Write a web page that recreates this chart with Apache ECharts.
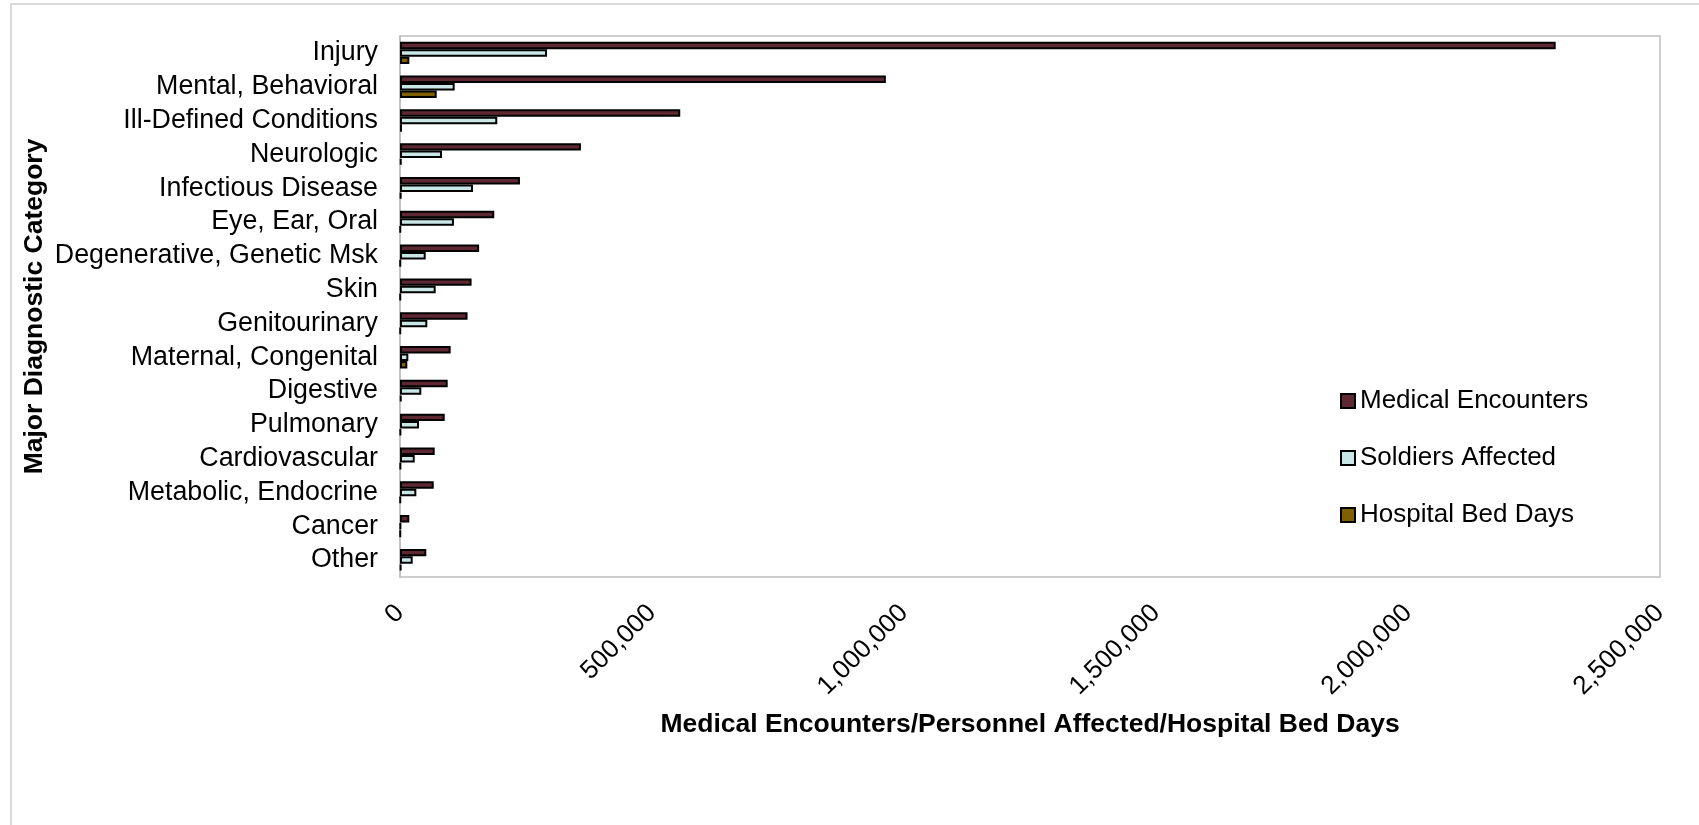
<!DOCTYPE html>
<html>
<head>
<meta charset="utf-8">
<title>Major Diagnostic Category</title>
<script src="https://cdn.jsdelivr.net/npm/echarts@6/dist/echarts.min.js"></script>
<style>
  html, body { margin: 0; padding: 0; background: #fff; }
  #chart { width: 1699px; height: 825px; }
</style>
</head>
<body>
<div id="chart"></div>
<script>
// Diagnostic categories, top to bottom
const categories = [
  'Injury', 'Mental, Behavioral', 'Ill-Defined Conditions', 'Neurologic',
  'Infectious Disease', 'Eye, Ear, Oral', 'Degenerative, Genetic Msk', 'Skin',
  'Genitourinary', 'Maternal, Congenital', 'Digestive', 'Pulmonary',
  'Cardiovascular', 'Metabolic, Endocrine', 'Cancer', 'Other'
];

const medicalEncounters = [
  2293000, 964000, 556000, 359000, 238000, 187000, 157000, 142000,
  134000, 100500, 94600, 88700, 68800, 66900, 18500, 52200
];

const soldiersAffected = [
  291700, 108500, 193000, 83300, 144800, 107000, 51000, 70800,
  54200, 16500, 42300, 37700, 29200, 32400, 1500, 25200
];

const hospitalBedDays = [
  18500, 72800, 4000, 3000, 2500, 1000, 1000, 1000,
  1000, 14500, 3000, 1500, 1500, 1000, 1000, 2500
];

const xTickStep = 500000;
const xMax = 2500000;

const FONT = '"Liberation Sans", Arial, Helvetica, sans-serif';

function withCommas(v) {
  return String(Math.round(v)).replace(/\B(?=(\d{3})+(?!\d))/g, ',');
}

function barSeries(name, data, fill) {
  return {
    name: name,
    type: 'bar',
    data: data,
    barGap: '0%',
    barCategoryGap: '34%',
    itemStyle: { color: fill, borderColor: '#000', borderWidth: 2 }
  };
}

const chart = echarts.init(document.getElementById('chart'));
chart.setOption({
  animation: false,
  backgroundColor: '#fff',
  textStyle: { fontFamily: FONT },
  graphic: [{
    type: 'rect',
    silent: true,
    z: -10,
    shape: { x: 11, y: 4, width: 1760, height: 900 },
    style: { fill: 'none', stroke: '#d9d9d9', lineWidth: 2 }
  }],
  grid: {
    left: 400, top: 36, width: 1260, height: 541,
    show: true, borderColor: '#bfbfbf', borderWidth: 1.5, backgroundColor: '#fff'
  },
  legend: {
    orient: 'vertical',
    left: 1335, top: 383,
    itemWidth: 14, itemHeight: 14, itemGap: 31,
    icon: 'rect',
    textStyle: { fontFamily: FONT, fontSize: 26, lineHeight: 26, color: '#000' }
  },
  xAxis: {
    type: 'value',
    min: 0, max: xMax, interval: xTickStep,
    splitLine: { show: false },
    axisLine: { show: false },
    axisTick: { show: false },
    axisLabel: {
      rotate: 45, margin: 32, fontSize: 26, color: '#000', fontFamily: FONT,
      formatter: withCommas
    },
    name: 'Medical Encounters/Personnel Affected/Hospital Bed Days',
    nameLocation: 'middle',
    nameGap: 134,
    nameMoveOverlap: false,
    nameTextStyle: { fontSize: 26.5, fontWeight: 'bold', color: '#000', fontFamily: FONT }
  },
  yAxis: {
    type: 'category',
    inverse: true,
    data: categories,
    axisLine: { show: true, lineStyle: { color: '#bfbfbf', width: 1.5 } },
    axisTick: { show: false },
    axisLabel: { interval: 0, fontSize: 26.8, color: '#000', margin: 22, fontFamily: FONT },
    name: 'Major Diagnostic Category',
    nameLocation: 'middle',
    nameGap: 352,
    nameMoveOverlap: false,
    nameTextStyle: { fontSize: 26.5, fontWeight: 'bold', color: '#000', fontFamily: FONT }
  },
  series: [
    barSeries('Medical Encounters', medicalEncounters, '#5e2832'),
    barSeries('Soldiers Affected', soldiersAffected, '#cae7e7'),
    barSeries('Hospital Bed Days', hospitalBedDays, '#7f6000')
  ]
});
</script>
</body>
</html>
